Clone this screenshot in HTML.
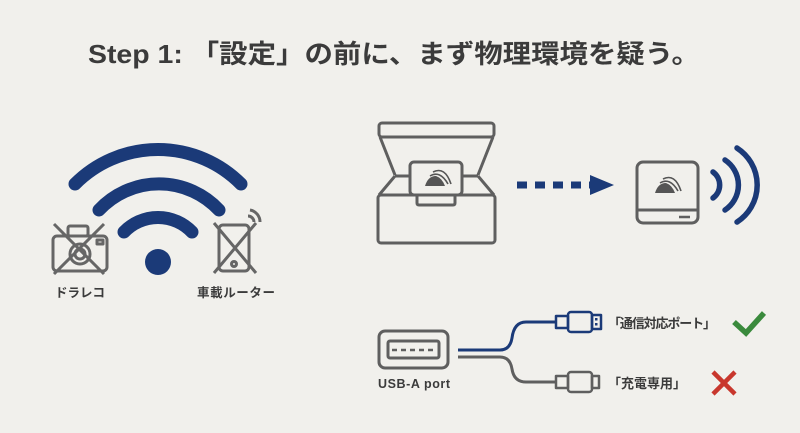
<!DOCTYPE html>
<html><head><meta charset="utf-8"><style>
html,body{margin:0;padding:0;background:#f1f0ec;}
svg{display:block;}
text{font-family:"Liberation Sans","Noto Sans CJK JP",sans-serif;font-weight:bold;fill:#3b3b3b;}
</style></head><body>
<svg width="800" height="433" viewBox="0 0 800 433" xmlns="http://www.w3.org/2000/svg">
<rect width="800" height="433" fill="#f1f0ec"/>
<text x="88" y="63" font-size="26" textLength="612" lengthAdjust="spacingAndGlyphs">Step 1: 「設定」の前に、まず物理環境を疑う。</text>

<!-- wifi -->
<g fill="none" stroke="#1b3a78" stroke-width="13" stroke-linecap="round">
<path d="M75 184 A117 117 0 0 1 241 184"/>
<path d="M99 210 A82 82 0 0 1 219 210"/>
<path d="M124 232 A47 47 0 0 1 192 232"/>
</g>
<circle cx="158" cy="262" r="13" fill="#1b3a78"/>

<!-- camera -->
<g fill="none" stroke="#666" stroke-width="3" stroke-linejoin="round">
<rect x="53" y="236" width="54" height="35" rx="4"/>
<rect x="68" y="226" width="20" height="10" rx="2"/>
<circle cx="80" cy="254" r="10"/>
<circle cx="80" cy="254" r="5"/>
<rect x="97" y="240" width="6" height="4"/>
<path d="M54 224 L104 274 M104 224 L54 274"/>
</g>
<!-- phone -->
<g fill="none" stroke="#666" stroke-width="3" stroke-linejoin="round">
<rect x="219" y="225" width="30" height="46" rx="4"/>
<circle cx="234" cy="264" r="2.5"/>
<path d="M214 223 L256 273 M256 223 L214 273"/>
<path d="M248 216 A6 6 0 0 1 254 222 M250 210 A12 12 0 0 1 260 222"/>
</g>
<text x="55" y="297" font-size="12.5" textLength="50">ドラレコ</text>
<text x="197" y="297" font-size="12.5" textLength="78">車載ルーター</text>

<!-- printer -->
<g fill="none" stroke="#5f5f5f" stroke-width="3" stroke-linejoin="round">
<rect x="379" y="123" width="115" height="14" rx="3"/>
<path d="M380 137 L395 175 M493 137 L478 175"/>
<path d="M395 176 L410 176 M462 176 L478 176"/>
<path d="M395 176 L379 195 M478 176 L494 195"/>
<rect x="378" y="195" width="117" height="48" rx="3"/>
<path d="M417 195 L417 203 Q417 205 419 205 L453 205 Q455 205 455 203 L455 195"/>
<rect x="410" y="162" width="52" height="33" rx="4" fill="#f1f0ec"/>
</g>
<g fill="#555"><path d="M425 186 Q428 176 436 176 Q442 178 445 186 Z"/></g>
<g fill="none" stroke="#555" stroke-width="1.6"><path d="M430 176 Q440 170 448 184 M433 172 Q445 166 451 184"/></g>

<!-- dashed arrow -->
<g stroke="#1b3a78" stroke-width="7"><path d="M517 185 H595" stroke-dasharray="10 8"/></g>
<path d="M590 175 L614 185 L590 195 Z" fill="#1b3a78"/>

<!-- device -->
<g fill="none" stroke="#5f5f5f" stroke-width="3" stroke-linejoin="round">
<rect x="637" y="162" width="61" height="61" rx="6"/>
<path d="M637 210 H698"/>
<path d="M679 217 H690" stroke-width="2.5"/>
</g>
<path d="M655 193 Q658 183 666 183 Q672 185 675 193 Z" fill="#555"/>
<g fill="none" stroke="#555" stroke-width="1.6"><path d="M660 183 Q670 177 678 191 M663 179 Q675 173 681 191"/></g>
<g fill="none" stroke="#1b3a78" stroke-width="5.5" stroke-linecap="round">
<path d="M713 172 A16 16 0 0 1 713 198"/>
<path d="M725 160 A30 30 0 0 1 725 210"/>
<path d="M737 148 A44 44 0 0 1 737 222"/>
</g>

<!-- usb port -->
<g fill="none" stroke="#5f5f5f" stroke-width="3" stroke-linejoin="round">
<rect x="379" y="331" width="69" height="37" rx="6"/>
<rect x="388" y="341" width="51" height="17" rx="2"/>
<path d="M392 350 H436" stroke-dasharray="5 4" stroke-width="2.5"/>
</g>
<text x="378" y="388" font-size="12.5" textLength="72">USB-A port</text>
<path d="M458 350 H500 Q510 350 512 338 Q514 322 526 322 H556" fill="none" stroke="#1b3a78" stroke-width="3"/>
<path d="M458 357 H500 Q510 357 512 369 Q514 382 526 382 H556" fill="none" stroke="#5f5f5f" stroke-width="3"/>
<g fill="none" stroke="#1b3a78" stroke-width="2.5" stroke-linejoin="round">
<rect x="556" y="316" width="12" height="12"/>
<rect x="568" y="312" width="24" height="20" rx="3"/>
<rect x="592" y="315" width="9" height="14"/>
</g>
<rect x="595" y="318" width="2.5" height="2.5" fill="#1b3a78"/><rect x="595" y="323" width="2.5" height="2.5" fill="#1b3a78"/>
<g fill="none" stroke="#5f5f5f" stroke-width="2.5" stroke-linejoin="round">
<rect x="556" y="376" width="12" height="12"/>
<rect x="568" y="372" width="24" height="20" rx="3"/>
<rect x="592" y="376" width="7" height="12"/>
</g>
<text x="608" y="328" font-size="13" textLength="108">「通信対応ポート」</text>
<text x="608" y="388" font-size="13" textLength="78">「充電専用」</text>
<path d="M734 322 L746 333 L764 313" fill="none" stroke="#3a8a3c" stroke-width="5.5"/>
<path d="M713 372 L735 394 M735 372 L713 394" stroke="#c8372d" stroke-width="4.5"/>
</svg>
</body></html>
